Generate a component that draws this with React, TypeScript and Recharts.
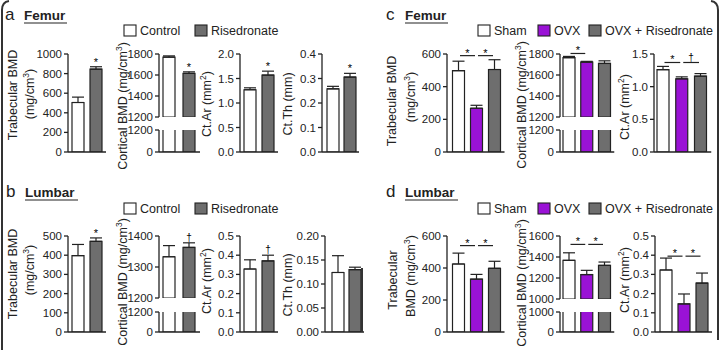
import { BarChart, Bar, XAxis, YAxis, ErrorBar, Cell, LabelList } from "recharts";

const FONT = '"Liberation Sans", Arial, Helvetica, sans-serif';
const INK = "#222";
const WHITE = "#ffffff";
const GRAY = "#6e6e6e";
const PURPLE = "#9a12d6";

// groups
const groupsAB = ["Control", "Risedronate"];
const groupsCD = ["Sham", "OVX", "OVX + Risedronate"];
const colorsAB = [WHITE, GRAY];
const colorsCD = [WHITE, PURPLE, GRAY];

// a: femur, risedronate study
const aTrabMean = [505, 845];
const aTrabErr = [55, 25];
const aCortMean = [1770, 1615];
const aCortErr = [12, 15];
const aCtArMean = [1.27, 1.57];
const aCtArErr = [0.04, 0.08];
const aCtThMean = [0.258, 0.306];
const aCtThErr = [0.01, 0.015];

// b: lumbar, risedronate study
const bTrabMean = [398, 472];
const bTrabErr = [58, 18];
const bCortMean = [1333, 1363];
const bCortErr = [36, 15];
const bCtArMean = [0.328, 0.37];
const bCtArErr = [0.048, 0.03];
const bCtThMean = [0.124, 0.13];
const bCtThErr = [0.035, 0.005];

// c: femur, OVX study
const cTrabMean = [498, 268, 505];
const cTrabErr = [58, 18, 60];
const cCortMean = [1765, 1722, 1710];
const cCortErr = [12, 8, 25];
const cCtArMean = [1.26, 1.12, 1.16];
const cCtArErr = [0.05, 0.03, 0.04];

// d: lumbar, OVX study
const dTrabMean = [425, 330, 398];
const dTrabErr = [68, 30, 44];
const dCortMean = [1368, 1233, 1320];
const dCortErr = [72, 40, 32];
const dCtArMean = [0.323, 0.146, 0.255];
const dCtArErr = [0.062, 0.052, 0.052];

// ticks
const ticksA1000 = [0, 200, 400, 600, 800, 1000];
const ticksA1800 = [1200, 1400, 1600, 1800];
const ticksLow1200 = [0, 1200];
const ticks2 = [0, 0.5, 1.0, 1.5, 2.0];
const ticks04 = [0, 0.1, 0.2, 0.3, 0.4];
const ticks500 = [0, 100, 200, 300, 400, 500];
const ticks1400 = [1200, 1300, 1400];
const ticks05 = [0, 0.1, 0.2, 0.3, 0.4, 0.5];
const ticks020 = [0, 0.05, 0.1, 0.15, 0.2];
const ticks600 = [0, 200, 400, 600];
const ticks15 = [0, 0.5, 1.0, 1.5];
const ticks1600 = [1000, 1200, 1400, 1600];
const ticksLow1000 = [0, 1000];

// significance marks
const marksStar = ["", "*"];
const marksDag = ["", "\u2020"];
const cTrabSig = [{ from: 0, to: 1, at: 590, sym: "*" }, { from: 1, to: 2, at: 590, sym: "*" }];
const cCortSig = [{ from: 0, to: 1, at: 1805, sym: "*" }];
const cCtArSig = [{ from: 0, to: 1, at: 1.37, sym: "*" }, { from: 1, to: 2, at: 1.37, sym: "\u2020" }];
const dTrabSig = [{ from: 0, to: 1, at: 540, sym: "*" }, { from: 1, to: 2, at: 540, sym: "*" }];
const dCortSig = [{ from: 0, to: 1, at: 1520, sym: "*" }, { from: 1, to: 2, at: 1520, sym: "*" }];
const dCtArSig = [{ from: 0, to: 1, at: 0.395, sym: "*" }, { from: 1, to: 2, at: 0.395, sym: "*" }];

type Sig = { from: number; to: number; at: number; sym: string };

type MiniProps = {
  axisX: number;
  topY: number;
  botY: number;
  domain: [number, number];
  ticks: number[];
  dec: number;
  names: string[];
  means: number[];
  errs: number[];
  colors: string[];
  step: number;
  padL: number;
  padR?: number;
  barW?: number;
  showX?: boolean;
  showErr?: boolean;
  marks?: string[];
  sigs?: Sig[];
};

function symY(sym: string, base: number) {
  return sym === "*" ? base + 1 : base - 1;
}

function MiniChart(p: MiniProps) {
  const MT = 12;
  const MB = 8;
  const YW = 40;
  const MR = 3;
  const showX = p.showX !== false;
  const showErr = p.showErr !== false;
  const XH = showX ? 1 : 0;
  const padR = p.padR ?? 1;
  const plotH = p.botY - p.topY;
  const n = p.means.length;
  const plotW = p.padL + n * p.step + padR;
  const k = plotH / (p.domain[1] - p.domain[0]);
  const W = YW + plotW + MR;
  const H = MT + plotH + XH + MB;
  const data = p.names.map((name, i) => ({ name, value: p.means[i], err: [0, p.errs[i]] }));

  const renderMarks = (lp: any) => {
    const idx = lp.index;
    if (idx === undefined || idx === null) return null;
    const x = Number(lp.x);
    const y = Number(lp.y);
    const w = Number(lp.width);
    const cx = x + w / 2;
    const out: any[] = [];
    const mark = p.marks ? p.marks[idx] : "";
    if (mark && showErr) {
      const top = y - p.errs[idx] * k;
      out.push(
        <text key="m" x={cx} y={mark === "*" ? top - 1 : top - 2} textAnchor="middle" fontSize={mark === "*" ? 11 : 10} fill="#000" stroke="none" fontFamily={FONT}>
          {mark}
        </text>
      );
    }
    (p.sigs || []).forEach((s, j) => {
      if (s.from !== idx) return;
      const mid = cx + (p.step * (s.to - s.from)) / 2;
      const half = (p.step * (s.to - s.from) - 3) / 2;
      const ly = MT + (p.domain[1] - s.at) * k;
      out.push(<line key={"l" + j} x1={mid - half} x2={mid + half} y1={ly} y2={ly} stroke={INK} strokeWidth={1.2} />);
      out.push(
        <text key={"t" + j} x={mid} y={symY(s.sym, ly)} textAnchor="middle" fontSize={s.sym === "*" ? 11 : 10} fill="#000" stroke="none" fontFamily={FONT}>
          {s.sym}
        </text>
      );
    });
    return <g>{out}</g>;
  };

  return (
    <div style={{ position: "absolute", left: p.axisX - YW, top: p.topY - MT, width: W, height: H }}>
      <BarChart width={W} height={H} data={data} margin={{ top: MT, right: MR, left: 0, bottom: MB }} style={{ overflow: "visible" }}>
        <XAxis
          dataKey="name"
          hide={!showX}
          tick={false}
          tickLine={false}
          height={XH}
          axisLine={{ stroke: INK, strokeWidth: 1.3 }}
          padding={{ left: p.padL, right: padR }}
        />
        <YAxis
          width={YW}
          domain={p.domain}
          ticks={p.ticks}
          interval={0}
          allowDataOverflow
          tickFormatter={(v: number) => v.toFixed(p.dec)}
          tick={{ fontSize: 11.5, fill: INK, fontFamily: FONT }}
          tickSize={4}
          tickMargin={2}
          axisLine={{ stroke: INK, strokeWidth: 1.3 }}
          tickLine={{ stroke: INK, strokeWidth: 1.3 }}
        />
        <Bar dataKey="value" barSize={p.barW ?? 12} stroke={INK} strokeWidth={1.2} isAnimationActive={false}>
          {data.map((d, i) => (
            <Cell key={d.name} fill={p.colors[i]} />
          ))}
          {showErr && <ErrorBar dataKey="err" direction="y" width={6} stroke={INK} strokeWidth={1.2} isAnimationActive={false} />}
          <LabelList dataKey="name" content={renderMarks} />
        </Bar>
      </BarChart>
    </div>
  );
}

function VText({ x, y, children }: { x: number; y: number; children: any }) {
  return (
    <text transform={`translate(${x},${y}) rotate(-90)`} textAnchor="middle" dominantBaseline="central" fontSize={12.5} fill={INK} fontFamily={FONT}>
      {children}
    </text>
  );
}

const Unit3 = ({ pre }: { pre: string }) => (
  <>
    {pre}(mg/cm
    <tspan dy={-4} fontSize={8.5}>3</tspan>
    <tspan dy={4}>)</tspan>
  </>
);
const Unit2 = () => (
  <>
    Ct.Ar (mm
    <tspan dy={-4} fontSize={8.5}>2</tspan>
    <tspan dy={4}>)</tspan>
  </>
);

function Legend({ x, y, items }: { x: number; y: number; items: { label: string; color: string; dx: number }[] }) {
  return (
    <g>
      {items.map((it) => (
        <g key={it.label}>
          <rect x={x + it.dx} y={y} width={12} height={11} fill={it.color} stroke={INK} strokeWidth={1.1} />
          <text x={x + it.dx + 16} y={y + 10} fontSize={12.5} fill={INK} fontFamily={FONT}>
            {it.label}
          </text>
        </g>
      ))}
    </g>
  );
}

function Title({ x, y, letter, name, uw }: { x: number; y: number; letter: string; name: string; uw: number }) {
  return (
    <g fontFamily={FONT} fill={INK}>
      <text x={x} y={y} fontSize={17}>{letter}</text>
      <text x={x + 19} y={y} fontSize={13.5} fontWeight="bold">{name}</text>
      <line x1={x + 19} x2={x + 19 + uw} y1={y + 3} y2={y + 3} stroke={INK} strokeWidth={1.2} />
    </g>
  );
}

export default function App() {
  const top1 = 54;
  const bot1 = 152;
  const top2 = 236;
  const bot2 = 332;
  return (
    <div style={{ position: "absolute", left: 0, top: 0, width: 722, height: 350, background: "#fff", overflow: "hidden" }}>
      {/* a */}
      <MiniChart axisX={68} topY={top1} botY={bot1} domain={[0, 1000]} ticks={ticksA1000} dec={0} names={groupsAB} means={aTrabMean} errs={aTrabErr} colors={colorsAB} step={18} padL={1} marks={marksStar} />
      <MiniChart axisX={159} topY={top1} botY={117} domain={[1200, 1800]} ticks={ticksA1800} dec={0} names={groupsAB} means={aCortMean} errs={aCortErr} colors={colorsAB} step={20} padL={0} showX={false} marks={marksStar} />
      <MiniChart axisX={159} topY={130} botY={bot1} domain={[0, 1200]} ticks={ticksLow1200} dec={0} names={groupsAB} means={aCortMean} errs={aCortErr} colors={colorsAB} step={20} padL={0} showErr={false} />
      <MiniChart axisX={240} topY={top1} botY={bot1} domain={[0, 2]} ticks={ticks2} dec={1} names={groupsAB} means={aCtArMean} errs={aCtArErr} colors={colorsAB} step={18} padL={1} marks={marksStar} />
      <MiniChart axisX={322} topY={top1} botY={bot1} domain={[0, 0.4]} ticks={ticks04} dec={1} names={groupsAB} means={aCtThMean} errs={aCtThErr} colors={colorsAB} step={17} padL={2} marks={marksStar} />

      {/* b */}
      <MiniChart axisX={68} topY={top2} botY={bot2} domain={[0, 500]} ticks={ticks500} dec={0} names={groupsAB} means={bTrabMean} errs={bTrabErr} colors={colorsAB} step={18} padL={1} marks={marksStar} />
      <MiniChart axisX={159} topY={top2} botY={298} domain={[1200, 1400]} ticks={ticks1400} dec={0} names={groupsAB} means={bCortMean} errs={bCortErr} colors={colorsAB} step={20} padL={0} showX={false} marks={marksDag} />
      <MiniChart axisX={159} topY={312} botY={bot2} domain={[0, 1200]} ticks={ticksLow1200} dec={0} names={groupsAB} means={bCortMean} errs={bCortErr} colors={colorsAB} step={20} padL={0} showErr={false} />
      <MiniChart axisX={240} topY={top2} botY={bot2} domain={[0, 0.5]} ticks={ticks05} dec={1} names={groupsAB} means={bCtArMean} errs={bCtArErr} colors={colorsAB} step={18} padL={1} marks={marksDag} />
      <MiniChart axisX={325} topY={top2} botY={bot2} domain={[0, 0.2]} ticks={ticks020} dec={2} names={groupsAB} means={bCtThMean} errs={bCtThErr} colors={colorsAB} step={17} padL={4} />

      {/* c */}
      <MiniChart axisX={447} topY={top1} botY={bot1} domain={[0, 600]} ticks={ticks600} dec={0} names={groupsCD} means={cTrabMean} errs={cTrabErr} colors={colorsCD} step={18} padL={2.5} sigs={cTrabSig} />
      <MiniChart axisX={560} topY={top1} botY={117} domain={[1200, 1800]} ticks={ticksA1800} dec={0} names={groupsCD} means={cCortMean} errs={cCortErr} colors={colorsCD} step={17.75} padL={0} showX={false} sigs={cCortSig} />
      <MiniChart axisX={560} topY={130} botY={bot1} domain={[0, 1200]} ticks={ticksLow1200} dec={0} names={groupsCD} means={cCortMean} errs={cCortErr} colors={colorsCD} step={17.75} padL={0} showErr={false} />
      <MiniChart axisX={654} topY={top1} botY={bot1} domain={[0, 1.5]} ticks={ticks15} dec={1} names={groupsCD} means={cCtArMean} errs={cCtArErr} colors={colorsCD} step={18.75} padL={0} sigs={cCtArSig} />

      {/* d */}
      <MiniChart axisX={447} topY={top2} botY={bot2} domain={[0, 600]} ticks={ticks600} dec={0} names={groupsCD} means={dTrabMean} errs={dTrabErr} colors={colorsCD} step={18} padL={2.5} sigs={dTrabSig} />
      <MiniChart axisX={560} topY={top2} botY={299} domain={[1000, 1600]} ticks={ticks1600} dec={0} names={groupsCD} means={dCortMean} errs={dCortErr} colors={colorsCD} step={17.75} padL={0} showX={false} sigs={dCortSig} />
      <MiniChart axisX={560} topY={312} botY={bot2} domain={[0, 1000]} ticks={ticksLow1000} dec={0} names={groupsCD} means={dCortMean} errs={dCortErr} colors={colorsCD} step={17.75} padL={0} showErr={false} />
      <MiniChart axisX={655} topY={top2} botY={bot2} domain={[0, 0.5]} ticks={ticks05} dec={1} names={groupsCD} means={dCtArMean} errs={dCtArErr} colors={colorsCD} step={18} padL={2} sigs={dCtArSig} />

      <svg width={722} height={350} style={{ position: "absolute", left: 0, top: 0, pointerEvents: "none" }}>
        {/* frames */}
        <path d="M9 1 Q2 2 2 10 L2 350" fill="none" stroke="#333" strokeWidth={2} />
        <path d="M711 1 Q718 2 718 10 L718 340" fill="none" stroke="#333" strokeWidth={2} />
        <line x1={362} x2={362} y1={268} y2={332} stroke="#333" strokeWidth={2} />

        <Title x={5} y={20} letter="a" name="Femur" uw={43} />
        <Title x={6} y={197} letter="b" name="Lumbar" uw={53} />
        <Title x={386} y={20} letter="c" name="Femur" uw={43} />
        <Title x={386} y={197} letter="d" name="Lumbar" uw={53} />

        <Legend x={124} y={25} items={[{ label: groupsAB[0], color: WHITE, dx: 0 }, { label: groupsAB[1], color: GRAY, dx: 71 }]} />
        <Legend x={124} y={203} items={[{ label: groupsAB[0], color: WHITE, dx: 0 }, { label: groupsAB[1], color: GRAY, dx: 71 }]} />
        <Legend x={478} y={25} items={[{ label: groupsCD[0], color: WHITE, dx: 0 }, { label: groupsCD[1], color: PURPLE, dx: 60 }, { label: groupsCD[2], color: GRAY, dx: 111 }]} />
        <Legend x={478} y={203} items={[{ label: groupsCD[0], color: WHITE, dx: 0 }, { label: groupsCD[1], color: PURPLE, dx: 60 }, { label: groupsCD[2], color: GRAY, dx: 111 }]} />

        {/* axis titles a */}
        <VText x={13} y={95}>Trabecular BMD</VText>
        <VText x={30} y={94}><Unit3 pre="" /></VText>
        <VText x={123} y={106}><Unit3 pre="Cortical BMD " /></VText>
        <VText x={207} y={104}><Unit2 /></VText>
        <VText x={288} y={104}>Ct.Th (mm)</VText>
        {/* axis titles b */}
        <VText x={13} y={274}>Trabecular BMD</VText>
        <VText x={30} y={270}><Unit3 pre="" /></VText>
        <VText x={123} y={282}><Unit3 pre="Cortical BMD " /></VText>
        <VText x={207} y={281}><Unit2 /></VText>
        <VText x={288} y={285}>Ct.Th (mm)</VText>
        {/* axis titles c */}
        <VText x={392} y={101}>Trabecular BMD</VText>
        <VText x={411} y={97}><Unit3 pre="" /></VText>
        <VText x={522} y={105}><Unit3 pre="Cortical BMD " /></VText>
        <VText x={625} y={107}><Unit2 /></VText>
        {/* axis titles d */}
        <VText x={393} y={280}>Trabecular</VText>
        <VText x={411} y={276}><Unit3 pre="BMD " /></VText>
        <VText x={522} y={283}><Unit3 pre="Cortical BMD " /></VText>
        <VText x={625} y={280}><Unit2 /></VText>
      </svg>
    </div>
  );
}
